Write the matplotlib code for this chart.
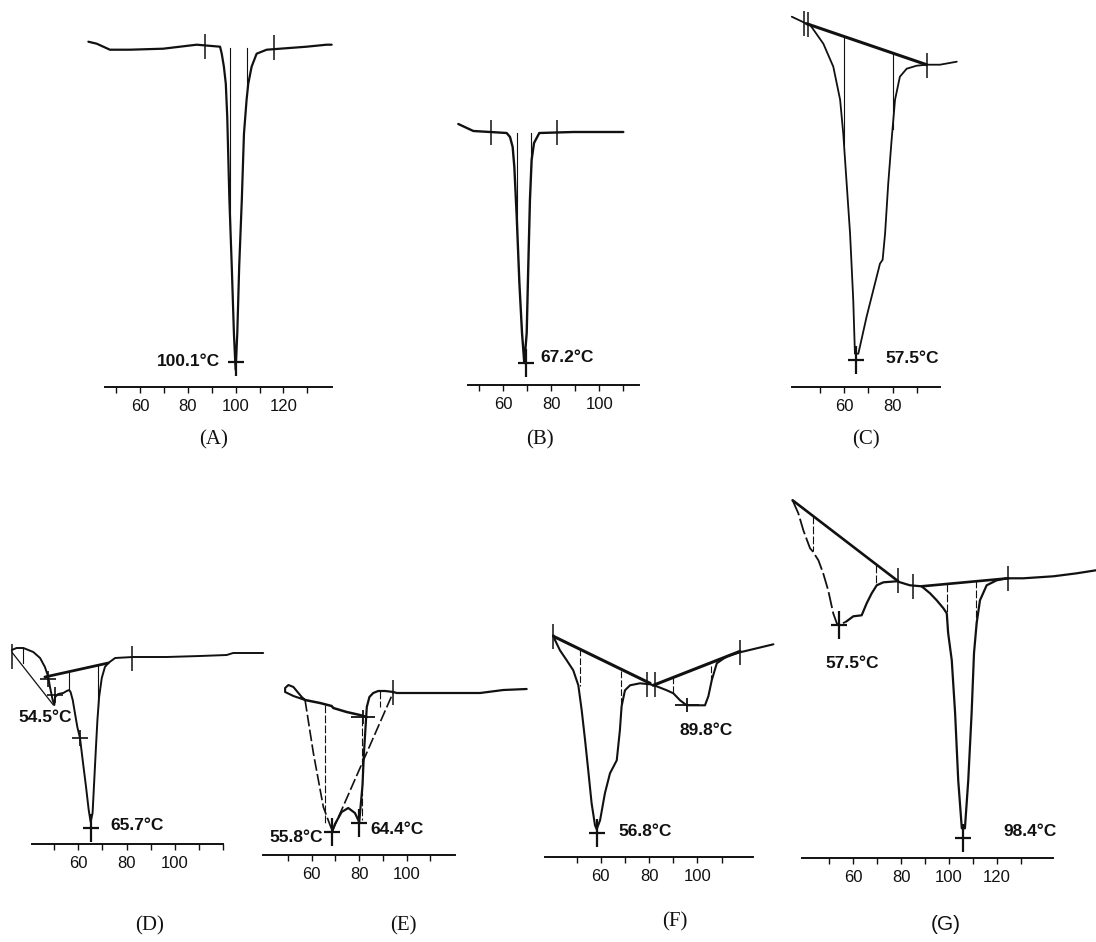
import matplotlib
matplotlib.use("Agg")
import matplotlib.pyplot as plt
from matplotlib import font_manager
from matplotlib.path import Path

# ---------------- data (temperature in degC, heat flow in arbitrary units) -------------
# Panel A
A_T = [38.4, 41.9, 47.4, 55.8, 69.7, 76.7, 83.7, 93.5, 94.2, 95.1, 95.9, 96.5, 97.4, 98.4, 99.3,
       100.0, 100.7, 101.5, 102.6, 103.5, 104.6, 105.3, 106.7, 108.8, 113.0, 118.6, 129.7, 138.1, 140.2]
A_H = [34.5, 34.3, 33.7, 33.7, 33.8, 34.0, 34.2, 34.0, 33.3, 32.0, 30.3, 27.0, 18.7, 12.0, 5.3,
       1.7, 5.3, 12.0, 18.7, 25.3, 28.7, 30.3, 32.0, 33.3, 33.7, 33.8, 34.0, 34.2, 34.2]
A_vlines = [(97.7, 33.9, 16.0), (104.6, 33.9, 30.0)]
A_limits_T = [87.2, 116.2]
A_limits_H = [34.1, 34.0]
A_peaks = [(100.0, 2.5)]
A_labels = [("100.1°C", 93.5, 2.5, "right")]

# Panel B
B_T = [41.25, 47.5, 54.5, 61.4, 62.8, 63.9, 64.6, 65.6, 66.7, 67.8, 68.75, 69.75, 70.4, 71.1, 71.8,
       72.8, 75.0, 89.2, 110.0]
B_H = [26.1, 25.4, 25.3, 25.2, 24.8, 23.8, 21.8, 16.8, 10.2, 5.2, 2.2, 5.2, 11.8, 18.5, 22.5,
       24.2, 25.2, 25.3, 25.3]
B_vlines = [(65.8, 25.2, 15.2), (71.4, 25.2, 21.8)]
B_limits_T = [54.9, 82.25]
B_limits_H = [25.3, 25.3]
B_peaks = [(69.3, 2.2)]
B_labels = [("67.2°C", 75.3, 2.8, "left")]

# Panel C
C_T = [38.5, 44.6, 46.0, 51.5, 55.6, 58.4, 59.7, 61.1, 62.5, 63.8, 64.5, 65.9, 69.3, 72.1, 74.8,
       75.9, 76.9, 78.2, 79.6, 81.0, 83.0, 85.8, 89.9, 94.0, 99.5, 106.4]
C_H = [37.0, 36.3, 36.2, 34.3, 32.0, 28.7, 25.3, 20.3, 15.3, 8.7, 3.3, 3.3, 7.0, 9.7, 12.3,
       12.7, 15.3, 20.3, 24.7, 28.7, 31.0, 31.8, 32.1, 32.2, 32.2, 32.5]
C_base_T = [44.6, 94.0]
C_base_H = [36.3, 32.2]
C_vlines = [(60.0, 35.0, 24.2), (80.0, 33.4, 25.8)]
C_limits_T = [43.7, 45.3, 94.0]
C_limits_H = [36.4, 36.3, 32.2]
C_peaks = [(65.1, 2.7)]
C_labels = [("57.5°C", 76.9, 2.8, "left")]

# Panel D
D_T = [32.5, 34.5, 37.3, 41.4, 44.2, 46.2, 47.6, 48.3, 49.4, 50.1, 50.4, 51.7, 53.8, 55.2, 56.2,
       56.8, 57.7, 58.6, 59.6, 60.7, 61.8, 63.2, 64.3, 65.1, 65.9, 66.6, 67.3, 67.9, 68.6, 69.7,
       71.0, 72.4, 75.2, 82.7, 96.5, 110.3, 121.3, 124.0, 136.4]
D_H = [19.4, 19.6, 19.6, 19.2, 18.6, 17.7, 16.7, 15.7, 14.4, 13.9, 14.7, 15.0, 15.1, 15.3, 15.4,
       15.2, 14.4, 13.1, 11.7, 10.6, 8.4, 5.7, 3.4, 2.2, 3.1, 6.4, 9.7, 12.4, 14.7, 16.6,
       17.7, 18.1, 18.6, 18.7, 18.7, 18.8, 18.9, 19.1, 19.1]
D_chord_T = [32.5, 49.7]
D_chord_H = [19.2, 13.9]
D_base_T = [46.2, 72.4]
D_base_H = [16.7, 18.1]
D_vlines = [(37.3, 19.6, 18.1), (56.2, 17.2, 15.4), (68.3, 17.9, 13.7)]
D_limits_T = [32.5, 82.1]
D_limits_H = [18.8, 18.6]
D_small_T = [47.6, 50.4, 60.7]
D_small_H = [16.5, 14.9, 10.6]
D_peaks = [(65.1, 1.6)]
D_labels = [("54.5°C", 57.3, 12.7, "right"), ("65.7°C", 73.1, 1.9, "left")]

# Panel E
E_loop_T = [57.2, 55.8, 52.3, 50.2, 48.8, 48.8, 52.3, 57.2]
E_loop_H = [15.5, 15.8, 16.8, 17.0, 16.7, 16.3, 15.9, 15.5]
E_T = [57.2, 60.7, 64.9, 67.7, 68.7, 69.8, 72.6, 75.4, 78.2, 80.0, 81.4, 82.0, 83.2, 84.3, 85.9,
       88.0, 90.9, 94.4, 95.8, 112.6, 130.9, 140.7, 150.5]
E_H = [15.5, 10.2, 4.8, 3.0, 2.4, 3.1, 4.3, 4.7, 4.2, 3.3, 7.0, 10.2, 14.8, 15.8, 16.2,
       16.4, 16.4, 16.3, 16.2, 16.2, 16.2, 16.5, 16.6]
E_base_T = [57.2, 63.5, 68.4, 69.1, 74.7, 80.3, 83.2]
E_base_H = [15.5, 15.2, 14.9, 14.7, 14.3, 14.0, 13.8]
E_diag_T = [68.7, 94.4]
E_diag_H = [2.4, 16.3]
E_vlines = [(65.6, 15.0, 3.2), (81.1, 13.7, 3.5), (88.8, 16.4, 14.8)]
E_limits_T = [94.4]
E_limits_H = [16.3]
E_wide_T = [81.7]
E_wide_H = [13.8]
E_peaks = [(68.7, 2.3), (80.0, 3.2)]
E_labels = [("55.8°C", 64.9, 1.8, "right"), ("64.4°C", 84.5, 2.5, "left")]

# Panel F
F_T = [40.4, 41.1, 43.1, 45.9, 48.6, 50.7, 52.1, 53.5, 54.8, 56.2, 57.6, 58.3, 59.7, 61.7, 63.8,
       66.6, 67.9, 68.6, 70.0, 72.1, 76.2, 80.4, 83.1, 87.3, 90.0, 92.8, 95.5, 103.1, 104.5, 105.9,
       108.0, 112.1, 117.6, 124.5, 131.4]
F_H = [22.2, 21.7, 20.7, 19.7, 18.7, 17.2, 14.7, 11.7, 8.7, 5.4, 3.2, 2.8, 3.7, 6.4, 8.4,
       9.7, 12.7, 15.1, 16.7, 17.2, 17.4, 17.3, 17.1, 16.7, 16.4, 15.7, 15.2, 15.2, 16.1, 17.7,
       19.4, 20.1, 20.5, 20.9, 21.3]
F_base1_T = [40.4, 80.4]
F_base1_H = [22.1, 17.4]
F_base2_T = [81.7, 117.6]
F_base2_H = [17.2, 20.6]
F_vlines = [(51.4, 20.8, 17.1), (68.4, 18.6, 14.7), (90.0, 18.0, 16.4), (105.5, 19.1, 17.6)]
F_limits_T = [40.4, 79.0, 82.4, 117.6]
F_limits_H = [22.1, 17.3, 17.3, 20.5]
F_wide_T = [95.5]
F_wide_H = [15.2]
F_peaks = [(58.3, 2.4)]
F_labels = [("56.8°C", 67.2, 2.6, "left"), ("89.8°C", 92.5, 12.7, "left")]

# Panel G
G_T = [34.6, 37.0, 39.1, 41.9, 43.0, 45.4, 47.4, 49.5, 51.6, 53.1, 54.0, 57.2, 60.0, 63.5, 65.6,
       67.7, 69.8, 72.6, 78.2, 83.7, 88.6, 92.1, 94.9, 97.7, 99.1, 99.7, 101.2, 102.6, 103.9, 105.4,
       106.7, 108.1, 109.5, 110.5, 111.6, 113.0, 115.8, 120.0, 124.2, 131.1, 143.7, 153.5, 161.5]
G_H = [35.8, 34.5, 32.8, 31.0, 30.7, 29.8, 28.5, 26.8, 24.5, 23.5, 23.3, 23.7, 24.2, 24.3, 25.5,
       26.5, 27.3, 27.6, 27.7, 27.3, 27.2, 26.5, 25.8, 25.0, 24.5, 22.5, 19.8, 14.5, 7.8, 3.0,
       3.0, 7.8, 14.5, 20.5, 23.5, 25.8, 27.3, 27.8, 28.0, 28.0, 28.2, 28.5, 28.8]
G_base1_T = [34.6, 78.8]
G_base1_H = [35.8, 27.7]
G_base2_T = [88.6, 124.9]
G_base2_H = [27.2, 28.0]
G_vlines = [(43.0, 34.2, 30.7), (69.5, 29.3, 27.3), (99.1, 27.4, 22.5), (111.2, 27.8, 22.8)]
G_limits_T = [78.8, 84.9, 124.9]
G_limits_H = [27.8, 27.2, 28.0]
G_peaks = [(54.0, 23.3), (106.0, 2.0)]
G_labels = [("57.5°C", 48.2, 19.5, "left"), ("98.4°C", 122.8, 2.7, "left")]

# axis ticks per panel
A_major, A_minor, A_span = [60, 80, 100, 120], [50, 70, 90, 110, 130], (45.4, 140.2)
B_major, B_minor, B_span = [60, 80, 100], [50, 70, 90, 110], (45.4, 116.6)
C_major, C_minor, C_span = [60, 80], [50, 70, 90], (38.5, 99.5)
D_major, D_minor, D_span = [60, 80, 100], [50, 70, 90, 110, 120], (40.7, 119.7)
E_major, E_minor, E_span = [60, 80, 100], [50, 70, 90, 110], (39.6, 120.3)
F_major, F_minor, F_span = [60, 80, 100], [50, 70, 90, 110], (36.9, 123.1)
G_major, G_minor, G_span = [60, 80, 100, 120], [50, 70, 90, 110, 130], (38.4, 143.7)

panel_names = ["(A)", "(B)", "(C)", "(D)", "(E)", "(F)", "(G)"]

# ---------------- figure ----------------
W, H = 1096, 942
fig = plt.figure(figsize=(W / 100, H / 100), dpi=100)
fig.patch.set_facecolor("white")

names = {f.name for f in font_manager.fontManager.ttflist}
if "Liberation Sans Narrow" in names:
    PEAK_FONT = dict(family=["Liberation Sans Narrow", "DejaVu Sans"], weight="bold", size=14)
else:
    PEAK_FONT = dict(family=["Liberation Sans", "DejaVu Sans"], weight="bold", size=12.5)
TICK_FONT = "Liberation Sans"
INK = "#111111"

CROSS = Path([(-0.55, 0), (0.55, 0), (0, -1), (0, 1)],
             [Path.MOVETO, Path.LINETO, Path.MOVETO, Path.LINETO])
WIDE = Path([(-1, 0), (1, 0), (0, -0.6), (0, 0.6)],
            [Path.MOVETO, Path.LINETO, Path.MOVETO, Path.LINETO])


def make_axes(x60, s, yb, major, minor, span):
    lo, hi = 25, 165
    left = x60 + (lo - 60) * s
    ax = fig.add_axes([left / W, 1 - yb / H, (hi - lo) * s / W, 380 / H])
    ax.set_xlim(lo, hi)
    ax.set_ylim(0, 38)
    ax.patch.set_visible(False)
    for sp in ["top", "left", "right"]:
        ax.spines[sp].set_visible(False)
    ax.spines["bottom"].set_bounds(*span)
    ax.spines["bottom"].set_linewidth(1.4)
    ax.spines["bottom"].set_color(INK)
    ax.set_yticks([])
    ax.set_xticks(major)
    ax.set_xticks(minor, minor=True)
    ax.tick_params(axis="x", which="both", direction="out", length=4.5, width=1.0,
                   colors=INK, pad=4)
    ax.tick_params(axis="x", which="major", labelsize=12)
    for lab in ax.get_xticklabels():
        lab.set_fontfamily(TICK_FONT)
    return ax


def trace(ax, T, Hh, lw=1.5, ls="-"):
    ax.plot(T, Hh, color=INK, lw=lw, ls=ls, clip_on=False, solid_capstyle="round")


def decorate(ax, vlines, limT, limH, peaks, labels, vls="-"):
    for t, top, bot in vlines:
        ax.plot([t, t], [top, bot], color=INK, lw=0.8, ls=vls, clip_on=False)
    ax.plot(limT, limH, ls="none", marker="|", markersize=18, mew=1.1, color=INK, clip_on=False)
    for t, h in peaks:
        ax.plot([t], [h], ls="none", marker=CROSS, markersize=20, mew=1.6,
                color=INK, fillstyle="none", clip_on=False)
    for txt, t, h, ha in labels:
        ax.text(t, h, txt, ha=ha, va="center", color=INK, **PEAK_FONT)


# A
ax = make_axes(140.0, 2.39, 386.7, A_major, A_minor, A_span)
trace(ax, A_T, A_H, lw=1.6)
decorate(ax, A_vlines, A_limits_T, A_limits_H, A_peaks, A_labels)

# B
ax = make_axes(503.3, 2.40, 385.0, B_major, B_minor, B_span)
trace(ax, B_T, B_H, lw=1.7)
decorate(ax, B_vlines, B_limits_T, B_limits_H, B_peaks, B_labels)

# C
ax = make_axes(844.0, 2.43, 386.7, C_major, C_minor, C_span)
trace(ax, C_T, C_H, lw=1.3)
trace(ax, C_base_T, C_base_H, lw=2.2)
decorate(ax, C_vlines, C_limits_T, C_limits_H, C_peaks, C_labels)

# D
ax = make_axes(78.3, 2.42, 844.0, D_major, D_minor, D_span)
trace(ax, D_T, D_H, lw=1.4)
trace(ax, D_chord_T, D_chord_H, lw=0.9)
trace(ax, D_base_T, D_base_H, lw=2.0)
decorate(ax, D_vlines, D_limits_T, D_limits_H, D_peaks, D_labels)
ax.plot(D_small_T, D_small_H, ls="none", marker="+", markersize=11, mew=1.2, color=INK, clip_on=False)

# E
ax = make_axes(311.7, 2.375, 855.0, E_major, E_minor, E_span)
trace(ax, E_loop_T, E_loop_H, lw=1.5)
trace(ax, E_T[:5], E_H[:5], lw=1.2, ls=(0, (7, 2)))
trace(ax, E_T[4:], E_H[4:], lw=1.6)
trace(ax, E_base_T, E_base_H, lw=1.8)
trace(ax, E_diag_T, E_diag_H, lw=1.2, ls=(0, (7, 2)))
decorate(ax, E_vlines, E_limits_T, E_limits_H, E_peaks, E_labels, vls=(0, (7, 2)))
ax.plot(E_wide_T, E_wide_H, ls="none", marker=WIDE, markersize=17, mew=1.3,
        color=INK, fillstyle="none", clip_on=False)

# F
ax = make_axes(600.8, 2.417, 857.3, F_major, F_minor, F_span)
trace(ax, F_T, F_H, lw=1.5)
trace(ax, F_base1_T, F_base1_H, lw=2.2)
trace(ax, F_base2_T, F_base2_H, lw=2.2)
decorate(ax, F_vlines, F_limits_T, F_limits_H, F_peaks, F_labels, vls=(0, (6, 2)))
ax.plot(F_wide_T, F_wide_H, ls="none", marker=WIDE, markersize=17, mew=1.3,
        color=INK, fillstyle="none", clip_on=False)

# G
ax = make_axes(853.3, 2.39, 858.3, G_major, G_minor, G_span)
trace(ax, G_T[:12], G_H[:12], lw=1.3, ls=(0, (9, 2)))
trace(ax, G_T[11:], G_H[11:], lw=1.6)
trace(ax, G_base1_T, G_base1_H, lw=1.9)
trace(ax, G_base2_T, G_base2_H, lw=1.9)
decorate(ax, G_vlines, G_limits_T, G_limits_H, G_peaks, G_labels, vls=(0, (7, 2)))

# panel captions
caption_pos = [(214, 440), (540, 440), (866, 440), (150, 926), (403, 926), (675, 922), (946, 924)]
for name, (px, py) in zip(panel_names, caption_pos):
    fam = ["Liberation Sans", "DejaVu Sans"] if name == "(G)" else ["Liberation Serif", "DejaVu Serif"]
    fig.text(px / W, 1 - py / H, name, ha="center", va="center", fontsize=15,
             family=fam, color=INK)

fig.savefig("out.png", dpi=100, facecolor="white")
